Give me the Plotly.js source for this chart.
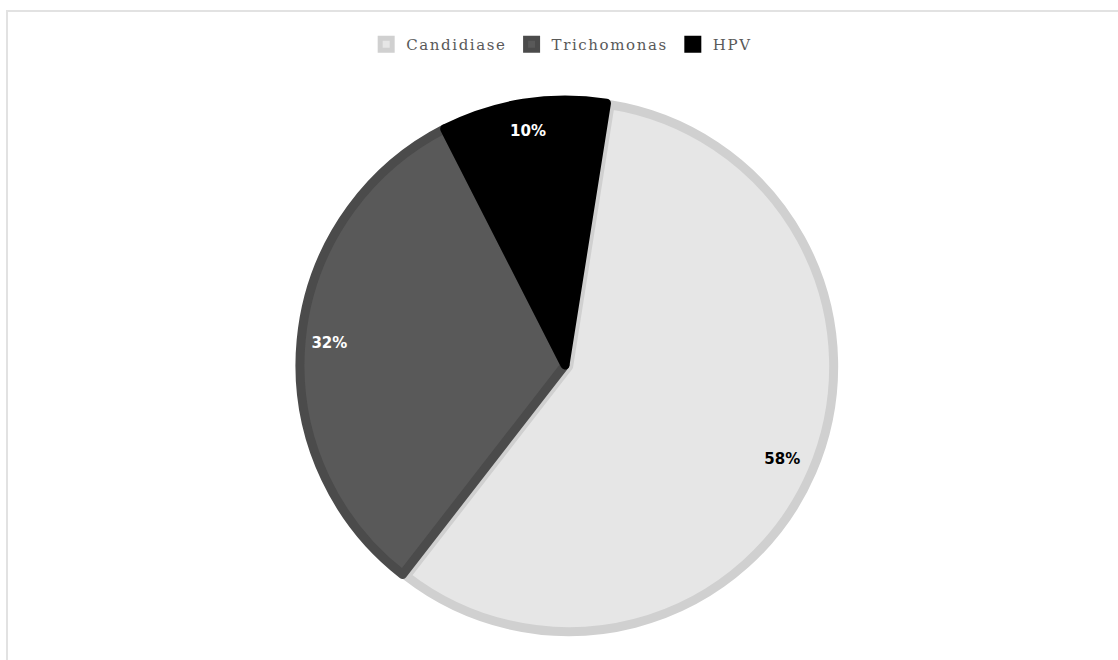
<!DOCTYPE html>
<html>
<head>
<meta charset="utf-8">
<script src="https://cdn.plot.ly/plotly-3.0.1.min.js"></script>
<style>
html,body{margin:0;padding:0;background:#fff;}
#frame{position:absolute;left:6px;top:10px;width:1112px;height:650px;border-left:2px solid #e2e2e2;border-top:2px solid #e2e2e2;box-sizing:border-box;pointer-events:none;z-index:5;}
#chart{position:absolute;left:0;top:0;width:1118px;height:660px;}
.legendtext{letter-spacing:1.6px;}
</style>
</head>
<body>
<div id="chart"></div>
<div id="frame"></div>
<script>
var categories = ["Candidiase", "Trichomonas", "HPV"];
var values = [58, 32, 10];
var fillColors = ["#e6e6e6", "#595959", "#000000"];
var borderColors = ["#d0d0d0", "#4b4b4b", "#000000"];
var labelColors = ["#000000", "#ffffff", "#ffffff"];
var pulls = [0.015, 0, 0];

var slices = {
  type: "pie",
  labels: categories,
  values: values,
  sort: false,
  direction: "clockwise",
  rotation: 9,
  pull: pulls,
  marker: {colors: fillColors, line: {color: borderColors, width: 9}},
  textinfo: "none",
  hoverinfo: "label+percent",
  showlegend: true
};

var labelRing = {
  type: "pie",
  labels: categories,
  values: values,
  sort: false,
  direction: "clockwise",
  rotation: 9,
  hole: 0.76,
  marker: {colors: ["rgba(0,0,0,0)", "rgba(0,0,0,0)", "rgba(0,0,0,0)"], line: {width: 0}},
  textinfo: "percent",
  textposition: "inside",
  insidetextorientation: "horizontal",
  texttemplate: "%{percent:.0%}",
  insidetextfont: {family: "DejaVu Sans, sans-serif", size: 15, color: labelColors, weight: "bold"},
  hoverinfo: "skip",
  showlegend: false
};

var layout = {
  width: 1118,
  height: 660,
  margin: {l: 12, r: 0, t: 96, b: 26},
  paper_bgcolor: "#ffffff",
  showlegend: true,
  legend: {
    orientation: "h",
    x: 0.497, xanchor: "center",
    y: 1.065, yanchor: "bottom",
    font: {family: "DejaVu Serif, serif", size: 15, color: "#595959"},
    itemwidth: 30,
    traceorder: "normal"
  }
};

Plotly.newPlot("chart", [slices, labelRing], layout, {displayModeBar: false, staticPlot: true});
</script>
</body>
</html>
